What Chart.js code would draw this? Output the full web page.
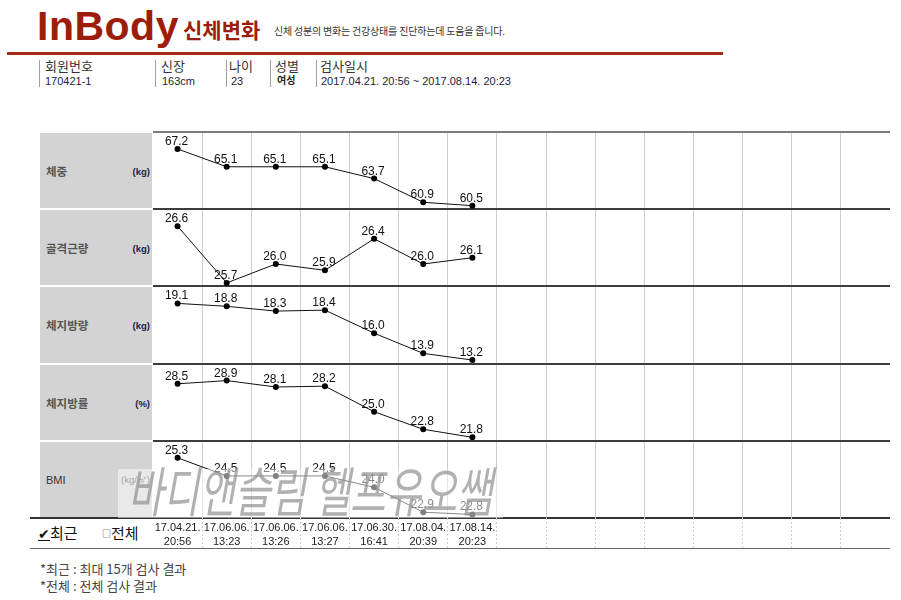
<!DOCTYPE html>
<html><head><meta charset="utf-8">
<script src="https://cdn.jsdelivr.net/npm/chart.js@4.4.0/dist/chart.umd.min.js"></script>
<style>
html,body{margin:0;padding:0;}
body{width:901px;height:600px;background:#fff;position:relative;overflow:hidden;font-family:"Liberation Sans","Noto Sans CJK KR",sans-serif;color:#222;}
.a{position:absolute;white-space:nowrap;}
.kr{font-family:"Noto Sans CJK KR","Liberation Sans",sans-serif;}
#cv{position:absolute;left:0;top:0;z-index:2;}
.sep{position:absolute;top:60px;height:27px;width:1px;background:#a0a0a0;}
.lbl{position:absolute;left:40px;width:112px;background:#d3d3d3;z-index:1;}
.lbl .n{position:absolute;left:6px;top:50%;transform:translateY(-50%);font:bold 11.5px "Noto Sans CJK KR",sans-serif;color:#555;}
.lbl .u{position:absolute;right:2px;top:50%;transform:translateY(-50%);font:bold 9.5px "Liberation Sans",sans-serif;color:#22224e;}
#wm{position:absolute;left:118px;top:469px;width:385px;height:49px;background:rgba(255,255,255,0.5);z-index:3;overflow:visible;}
#wm span{position:absolute;left:10px;top:-10px;font:italic 54px/60px "Noto Sans CJK KR",sans-serif;color:rgba(140,140,140,0.68);transform:scaleX(0.716);transform-origin:left center;white-space:nowrap;}
</style></head><body>

<div class="a" style="left:37px;top:5px;font:bold 41px/42px 'Liberation Sans',sans-serif;color:#9e1c0a;letter-spacing:0.5px;">InBody</div>
<div class="a kr" style="left:183px;top:15px;font:bold 21px/28px 'Noto Sans CJK KR',sans-serif;color:#9e1c0a;letter-spacing:0px;">신체변화</div>
<div class="a kr" style="left:274px;top:24px;font:10px/14px 'Noto Sans CJK KR',sans-serif;color:#333;letter-spacing:-0.2px;">신체 성분의 변화는 건강상태를 진단하는데 도움을 줍니다.</div>
<div class="a" style="left:7px;top:52px;width:716px;height:3px;background:#a42a18;"></div>

<div class="sep" style="left:39px"></div>
<div class="sep" style="left:155px"></div>
<div class="sep" style="left:226px"></div>
<div class="sep" style="left:270px"></div>
<div class="sep" style="left:316px"></div>
<div class="a kr" style="left:45px;top:57px;font:13px/18px 'Noto Sans CJK KR';color:#333;">회원번호</div>
<div class="a kr" style="left:161px;top:57px;font:13px/18px 'Noto Sans CJK KR';color:#333;">신장</div>
<div class="a kr" style="left:229px;top:57px;font:13px/18px 'Noto Sans CJK KR';color:#333;">나이</div>
<div class="a kr" style="left:275px;top:57px;font:13px/18px 'Noto Sans CJK KR';color:#333;">성별</div>
<div class="a kr" style="left:320px;top:57px;font:13px/18px 'Noto Sans CJK KR';color:#333;">검사일시</div>
<div class="a" style="left:45px;top:74px;font:11px/14px 'Liberation Sans';color:#1c1c3c;">170421-1</div>
<div class="a" style="left:162px;top:74px;font:11px/14px 'Liberation Sans';color:#1c1c3c;">163cm</div>
<div class="a" style="left:231px;top:74px;font:11px/14px 'Liberation Sans';color:#1c1c3c;">23</div>
<div class="a kr" style="left:277px;top:73px;font:bold 10px/14px 'Noto Sans CJK KR';color:#222;">여성</div>
<div class="a" style="left:321px;top:74px;font:11px/14px 'Liberation Sans';color:#1c1c3c;">2017.04.21. 20:56 ~ 2017.08.14. 20:23</div>

<div id="labels"></div>

<div class="a" style="left:30px;top:517px;width:860px;height:2px;background:#333;z-index:1;"></div>
<div class="a" style="left:30px;top:548px;width:860px;height:1px;background:#666;z-index:1;"></div>
<div class="a kr" style="left:38px;top:522px;font:15px/22px 'Noto Sans CJK KR';color:#111;"><span style="font-size:14px;border-bottom:1.5px solid #111;line-height:13px;display:inline-block;">✔</span>최근</div>
<div class="a kr" style="left:102px;top:522px;font:15px/22px 'Noto Sans CJK KR';color:#111;"><span style="font-size:9px;vertical-align:2px;">□</span>전체</div>
<div class="a kr" style="left:40px;top:560px;font:13px/17px 'Noto Sans CJK KR';color:#444;">*최근 : 최대 15개 검사 결과</div>
<div class="a kr" style="left:40px;top:577px;font:13px/17px 'Noto Sans CJK KR';color:#444;">*전체 : 전체 검사 결과</div>

<canvas id="cv" width="901" height="600"></canvas>
<div id="wm"><span>바디앤슬림 헬프유오쌤</span></div>

<script>
// ---- data ----
const dates = [['17.04.21.','20:56'],['17.06.06.','13:23'],['17.06.06.','13:26'],['17.06.06.','13:27'],['17.06.30.','16:41'],['17.08.04.','20:39'],['17.08.14.','20:23']];
const slotCount = 15;
const weight  = [67.2, 65.1, 65.1, 65.1, 63.7, 60.9, 60.5];
const muscle  = [26.6, 25.7, 26.0, 25.9, 26.4, 26.0, 26.1];
const fatMass = [19.1, 18.8, 18.3, 18.4, 16.0, 13.9, 13.2];
const fatPct  = [28.5, 28.9, 28.1, 28.2, 25.0, 22.8, 21.8];
const bmi     = [25.3, 24.5, 24.5, 24.5, 24.0, 22.9, 22.8];
const panelNames = ['체중','골격근량','체지방량','체지방률','BMI'];
const panelUnits = ['(kg)','(kg)','(kg)','(%)','(kg/㎡)'];

const series = [weight, muscle, fatMass, fatPct, bmi];
const categories = dates.concat(Array(slotCount - dates.length).fill(''));

const scales = {
  x: {
    type: 'category', labels: categories, offset: true,
    afterFit: s => { s.height = 31; },
    border: { display: false },
    grid: {
      offset: true, lineWidth: 1,
      color: c => (c.index === undefined || c.index === 0) ? 'rgba(0,0,0,0)' : '#cdcdcd',
      borderDash: [2, 2], tickBorderDash: [2, 2], tickLength: 31, drawTicks: true
    },
    ticks: { autoSkip: false, maxRotation: 0, minRotation: 0, padding: -28, color: '#222',
      font: { family: 'Liberation Sans', size: 11, lineHeight: 1.25 } }
  }
};
series.forEach((vals, i) => {
  const lo = Math.min(...vals), hi = Math.max(...vals), r = hi - lo;
  scales['y' + i] = {
    type: 'linear', position: 'right', stack: 'panels', stackWeight: 1,
    min: lo - r * 0.062, max: hi + r * 0.30,
    afterFit: s => { s.width = 0; },
    afterBuildTicks: s => { s.ticks = [{ value: s.max }]; },
    ticks: { display: false },
    border: { display: false },
    grid: { drawTicks: false, lineWidth: 2, color: i === 0 ? '#7c7c7c' : '#3c3c3c' }
  };
});

const valueLabels = {
  id: 'valueLabels',
  afterDatasetsDraw(chart) {
    const ctx = chart.ctx;
    ctx.save();
    ctx.font = '12px "Liberation Sans", Arial, sans-serif';
    ctx.fillStyle = '#111';
    ctx.textAlign = 'center';
    ctx.textBaseline = 'alphabetic';
    chart.data.datasets.forEach((ds, i) => {
      chart.getDatasetMeta(i).data.forEach((pt, j) => {
        ctx.fillText(ds.data[j].toFixed(1), pt.x - 1, pt.y - 4);
      });
    });
    ctx.restore();
  }
};

const chart = new Chart(document.getElementById('cv'), {
  type: 'line',
  data: {
    labels: categories,
    datasets: series.map((vals, i) => ({
      data: vals, yAxisID: 'y' + i, borderColor: '#111', borderWidth: 1,
      pointRadius: 3, pointBackgroundColor: '#000', pointBorderColor: '#000', pointBorderWidth: 0,
      tension: 0, clip: false
    }))
  },
  options: {
    responsive: false, animation: false, devicePixelRatio: 1,
    layout: { padding: { left: 153, right: 11, top: 132, bottom: 51 } },
    plugins: { legend: { display: false }, tooltip: { enabled: false } },
    scales
  },
  plugins: [valueLabels]
});

// panel label boxes aligned to the chart's stacked axes
const holder = document.getElementById('labels');
panelNames.forEach((name, i) => {
  const s = chart.scales['y' + i];
  const d = document.createElement('div');
  d.className = 'lbl';
  d.style.top = (Math.round(s.top) + 1) + 'px';
  d.style.height = (Math.round(s.bottom) - Math.round(s.top) - 2) + 'px';
  const isBmi = name === 'BMI';
  d.innerHTML = '<span class="n" style="' + (isBmi ? 'font-weight:normal;color:#333;font-family:Liberation Sans;font-size:11px;' : '') + '">' + name +
    '</span><span class="u" style="' + (isBmi ? 'font-weight:normal;color:#444;' : '') + '">' + panelUnits[i] + '</span>';
  holder.appendChild(d);
});
</script>
</body></html>
